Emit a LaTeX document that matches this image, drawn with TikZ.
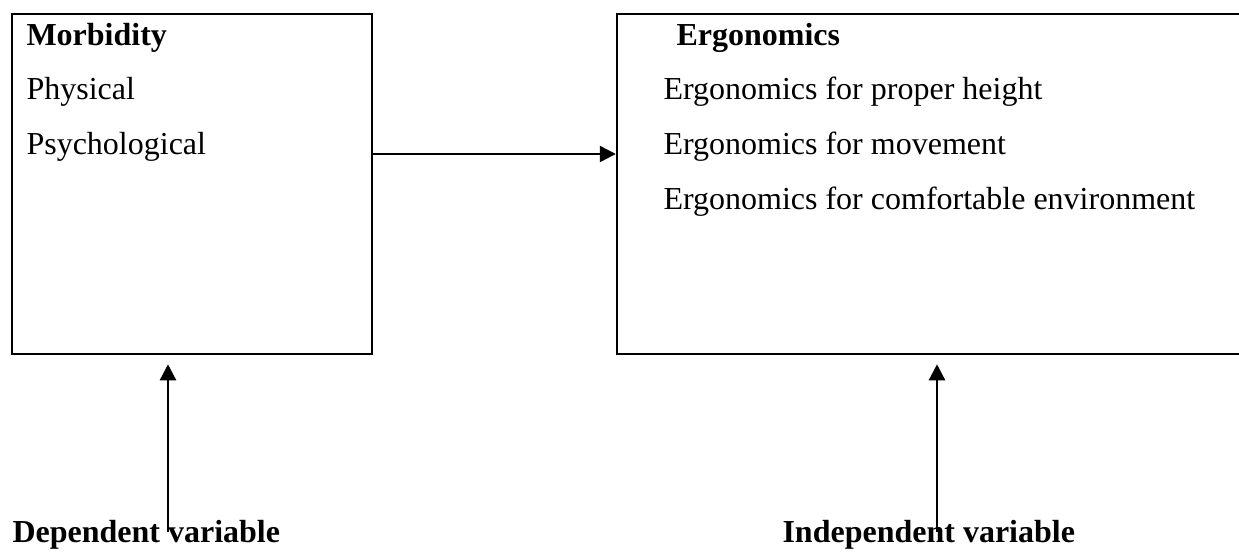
\documentclass[tikz,border=0pt]{standalone}
\usepackage{fontspec}
\setmainfont{Liberation Serif}
\usetikzlibrary{arrows.meta}

\begin{document}
\begin{tikzpicture}[x=0.375pt, y=-0.375pt,
  box_node/.style={draw, line width=0.9pt, inner sep=0pt},
  text_node/.style={anchor=base west, inner sep=0pt, font=\fontsize{12pt}{14pt}\selectfont},
  head_node/.style={text_node, font=\fontsize{12pt}{14pt}\selectfont\bfseries},
  arrow_line/.style={line width=0.9pt, -{Triangle[length=6pt,width=6pt]}}]

    \useasboundingbox (0,0) rectangle (1239,558);
    \clip (0,0) rectangle (1239,558);

    \node[box_node, minimum width=135pt, minimum height=127.5pt] (morb) at (192,184) {};
    \node[box_node, minimum width=235.5pt, minimum height=127.5pt] (ergo) at (931,184) {};

    \node[head_node] (morbhead) at (26,45) {Morbidity};
    \node[text_node] (phys) at (26,99) {Physical};
    \node[text_node] (psych) at (26,154) {Psychological};

    \node[head_node] (ergohead) at (676,45) {Ergonomics};
    \node[text_node] (height) at (663,99) {Ergonomics for proper height};
    \node[text_node] (move) at (663,154) {Ergonomics for movement};
    \node[text_node] (comfort) at (663,209) {Ergonomics for comfortable environment};

    \node[head_node] (dep) at (12,542) {Dependent variable};
    \node[head_node] (indep) at (782,542) {Independent variable};
    \coordinate (deptail) at (168,532);
    \coordinate (indeptail) at (937,532);

    \draw[arrow_line] (morb.east |- psych.base) -- (ergo.west |- psych.base);
    \draw[arrow_line, shorten >=3.4pt] (deptail) -- (deptail |- morb.south);
    \draw[arrow_line, shorten >=3.4pt] (indeptail) -- (indeptail |- ergo.south);
\end{tikzpicture}
\end{document}
